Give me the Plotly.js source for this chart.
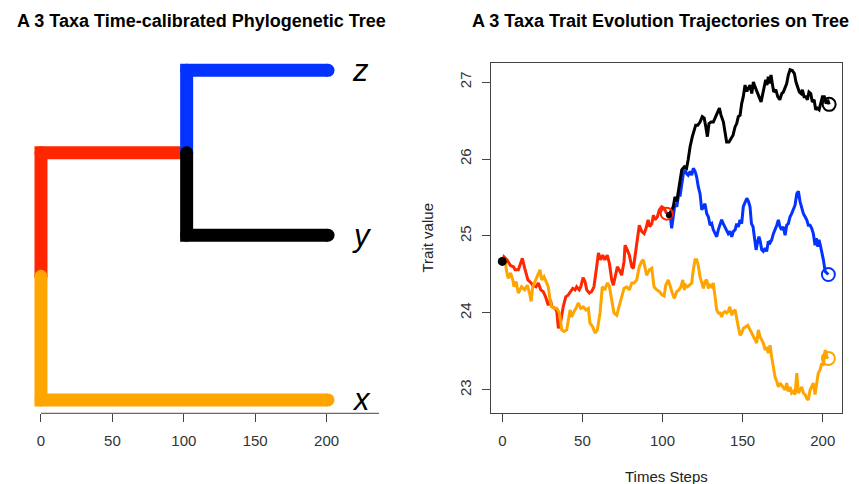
<!DOCTYPE html>
<html>
<head>
<meta charset="utf-8">
<script src="https://cdn.plot.ly/plotly-3.0.1.min.js"></script>
<style>html,body{margin:0;padding:0;background:#fff;}#chart{width:859px;height:484px;}</style>
</head>
<body>
<div id="chart"></div>
<script>
// ---------- Tree data ----------
const tipNames = ['x', 'y', 'z'];
const tipY = [1, 2, 3];
const rootTime = 0;
const nodeTime = 102;
const tipTime = 201;
const treeTicks = [0, 50, 100, 150, 200];

// ---------- Trajectory data ----------
const redTime = [0,1,3,5,7,8,10,11,12.5,14,15,16,18,19,21,22.5,24,25.5,27,28.7,30,31,33,34,35,36.5,38,39.6,41,43,44,45.4,46.4,48,49,50.4,51.6,52.7,54.3,55.8,57.2,58.9,60,61.4,62.7,64,65.5,66.8,68.3,69.3,70.8,71.8,73,74.5,76,76.6,78,79.3,80.8,81.8,82.8,84.3,85.5,87,88.5,89.7,91,92,93.3,94.3,95.3,96.8,98,99.5,101,102.6];
const redValue = [24.67,24.73,24.69,24.62,24.60,24.56,24.56,24.62,24.71,24.58,24.52,24.43,24.39,24.36,24.34,24.39,24.30,24.28,24.21,24.10,24.17,24.08,24.06,24.02,23.80,23.89,24.08,24.21,24.23,24.30,24.32,24.30,24.34,24.30,24.34,24.46,24.41,24.30,24.26,24.28,24.34,24.60,24.78,24.69,24.75,24.69,24.75,24.65,24.43,24.36,24.52,24.60,24.56,24.49,24.67,24.88,24.82,24.75,24.60,24.58,24.73,24.97,25.14,25.06,25.03,25.10,25.21,25.12,25.16,25.27,25.21,25.25,25.34,25.38,25.36,25.29];

const blackTime = [102.6,104,106.7,107.8,108.9,110,111,112,113.6,115,116,117.2,118.6,120,120.7,122,123.4,124.8,126,127,128,129,130.3,131.7,133.2,134.4,135.5,136.5,138,139,140,141.5,143,144,145.3,146.3,147.3,148.4,149.4,150.4,151.5,152.6,153.6,154.6,155.7,156.7,157.7,158.8,160.2,161.5,162.5,163.5,164.4,165.2,166,166.9,167.7,168.5,169.4,170.7,171.9,173.2,174.4,175.4,176.5,177.5,178.5,179.6,181,182.3,183.3,184.4,185.4,186.5,187.3,188.3,189.4,190.4,191.4,192.5,193.5,194.6,195.6,196.6,197.7,198.7,199.8,201,202.1,203.1,204];
const blackValue = [25.29,25.27,25.38,25.51,25.45,25.58,25.75,25.86,25.90,25.88,25.99,26.16,26.29,26.40,26.44,26.44,26.48,26.55,26.53,26.42,26.29,26.46,26.48,26.48,26.55,26.59,26.66,26.57,26.48,26.35,26.22,26.22,26.27,26.31,26.42,26.46,26.55,26.57,26.72,26.81,26.96,26.88,26.92,26.96,26.85,27.00,26.94,26.87,26.81,26.74,26.83,26.94,27.03,26.96,27.07,26.98,27.09,26.98,26.87,26.90,26.81,26.77,26.85,26.87,26.92,26.98,27.09,27.16,27.15,27.11,27.00,26.94,26.87,26.85,26.90,26.81,26.81,26.77,26.87,26.85,26.74,26.77,26.64,26.66,26.64,26.72,26.81,26.81,26.72,26.77,26.71];

const blueTime = [102.6,104.7,105.7,106.7,107.8,108.9,110,111,112,113,114,115,116,117.2,118.2,119.2,120.3,121.3,122.3,123.4,124.5,125.5,126.5,127.6,128.6,129.7,130.7,131.7,132.8,133.8,134.8,135.9,136.9,137.9,139,140,141,142,143.2,144.2,145.3,146.3,147.3,148.4,149.4,150.4,151.5,152.6,153.6,154.6,155.5,156.5,157.3,158.4,159.4,160.2,161,161.9,162.9,164,165,166,167.1,168.1,169.2,170.2,171.3,172.3,173.3,174.4,175.4,176.5,177.5,178.5,179.6,180.6,181.7,182.7,183.8,184.8,185.8,186.9,187.9,189,190,191,192.1,193.1,194.1,195.2,196,196.9,197.7,198.5,199.4,200.4,201.5,202.5,203.5];
const blueValue = [25.29,25.29,25.10,25.29,25.42,25.38,25.53,25.53,25.68,25.81,25.86,25.81,25.79,25.84,25.79,25.88,25.84,25.77,25.64,25.55,25.34,25.38,25.42,25.29,25.25,25.14,25.16,25.08,25.03,24.99,25.08,25.16,25.21,25.16,25.12,25.08,25.03,25.06,24.99,25.06,25.08,25.16,25.12,25.21,25.16,25.38,25.44,25.49,25.45,25.38,25.16,25.12,24.99,24.82,24.93,24.99,24.93,24.82,24.80,24.84,24.80,24.93,24.91,24.95,25.03,25.08,25.14,25.21,25.12,25.08,25.12,25.01,25.14,25.16,25.25,25.29,25.36,25.40,25.55,25.58,25.45,25.36,25.29,25.25,25.21,25.14,25.14,25.10,25.03,24.88,24.97,24.86,24.95,24.88,24.80,24.69,24.54,24.52,24.50];

const orangeTime = [0,1.7,2.7,3.7,5.2,6.5,7.3,8.6,10,12,14,15.6,17,18,19,20.4,21.8,23.5,24.6,26,27.3,28.7,29.8,30.8,32.3,34,35.6,37.1,38.5,40.2,42.3,43.3,44.8,46,47.4,48.9,50.6,52.2,53.7,54.7,56.4,57.9,59.3,61,62.4,64,65.5,66.8,68.3,69.7,71.4,73,74.5,76,77.7,79.3,80.8,82.2,83.9,85.5,87,88,89.1,90.1,91.8,93.3,94.7,96.4,98,99.5,101,102,103.6,104.7,106.1,107.4,108.9,110.3,111.5,112.6,113.6,114.5,115.5,116.7,118.2,119.2,120.3,121.3,122.3,123.4,124.5,125.5,126.5,127.6,128.6,129.7,130.7,131.7,132.8,133.8,134.8,135.9,136.9,137.9,139,140,141,142,143.2,144.2,145.3,146.3,147.3,148.4,149.4,150.4,151.5,152.6,153.2,154.6,156.1,157.3,158.8,159.8,160.9,161.9,162.9,164,165,166,167.1,168.1,169.2,170.2,171.3,172.3,173.3,174.4,175.4,176.5,177.5,178.5,179.6,180.6,181.7,182.7,183.8,184.8,185.8,186.9,187.9,189,190,191,192.1,193.1,194.1,195.2,196.2,197.2,198.3,199.4,200.4,201.5,202.5,203.5];
const orangeValue = [24.67,24.69,24.54,24.45,24.52,24.43,24.34,24.41,24.26,24.34,24.30,24.36,24.26,24.15,24.34,24.41,24.47,24.56,24.43,24.47,24.41,24.34,24.17,24.08,24.06,24.06,24.00,23.78,23.76,23.78,24.04,23.95,24.02,24.06,24.13,24.06,24.08,24.04,24.06,23.87,23.82,23.74,23.78,24.00,24.34,24.30,24.39,24.35,24.17,24.00,23.97,24.08,24.21,24.32,24.34,24.30,24.39,24.39,24.43,24.60,24.67,24.69,24.58,24.49,24.56,24.58,24.34,24.30,24.28,24.24,24.22,24.36,24.43,24.34,24.26,24.19,24.28,24.30,24.34,24.43,24.30,24.36,24.34,24.36,24.39,24.56,24.69,24.69,24.62,24.47,24.39,24.32,24.41,24.43,24.32,24.36,24.34,24.39,24.21,24.04,24.00,24.00,23.95,24.00,24.02,24.00,24.02,24.08,23.97,24.02,24.04,23.95,23.82,23.71,23.74,23.80,23.81,23.83,23.84,23.78,23.71,23.67,23.61,23.78,23.69,23.65,23.61,23.52,23.56,23.48,23.58,23.43,23.26,23.17,23.11,23.04,23.09,23.06,23.02,23.00,23.09,22.98,23.04,22.96,22.98,22.94,23.22,22.96,23.00,23.04,22.96,22.94,22.89,22.87,23.00,23.04,23.09,22.94,23.09,23.22,23.26,23.35,23.32,23.52,23.43,23.41];

const trajTicksX = [0, 50, 100, 150, 200];
const trajTicksY = [23, 24, 25, 26, 27];

// ---------- Colours ----------
const cRed = '#FF2600', cBlue = '#0433FF', cOrange = '#FFA500', cBlack = '#000000';
const FONT = 'Liberation Sans, Arial, Helvetica, sans-serif';

const rootY = (tipY[0] + (tipY[1] + tipY[2]) / 2) / 2;
const nodeY = (tipY[1] + tipY[2]) / 2;

function edge(xs, ys, color) {
  return {type: 'scatter', mode: 'lines+markers', x: xs, y: ys, xaxis: 'x', yaxis: 'y',
    line: {color: color, width: 13}, marker: {color: color, size: 13}, hoverinfo: 'skip'};
}
function traj(t, v, color) {
  return {type: 'scatter', mode: 'lines', x: t, y: v, xaxis: 'x2', yaxis: 'y2',
    line: {color: color, width: 3}, hoverinfo: 'skip'};
}
function pt(t, v, color, size, open) {
  return {type: 'scatter', mode: 'markers', x: [t], y: [v], xaxis: 'x2', yaxis: 'y2',
    marker: open ? {symbol: 'circle-open', size: size, color: color, line: {color: color, width: 2}}
                 : {symbol: 'circle', size: size, color: color}, hoverinfo: 'skip'};
}
const last = a => a[a.length - 1];

const data = [
  edge([rootTime, rootTime, nodeTime], [rootY, nodeY, nodeY], cRed),
  edge([nodeTime, nodeTime, tipTime], [nodeY, tipY[2], tipY[2]], cBlue),
  edge([rootTime, rootTime, tipTime], [rootY, tipY[0], tipY[0]], cOrange),
  edge([nodeTime, nodeTime, tipTime], [nodeY, tipY[1], tipY[1]], cBlack),
  traj(redTime, redValue, cRed),
  traj(blueTime, blueValue, cBlue),
  traj(blackTime, blackValue, cBlack),
  traj(orangeTime, orangeValue, cOrange),
  pt(redTime[0], redValue[0], cBlack, 9, false),
  pt(last(redTime), last(redValue), cRed, 12, true),
  pt(blackTime[1], blackValue[1], cBlack, 6, false),
  pt(last(blackTime), last(blackValue), cBlack, 13, true),
  pt(last(blueTime), last(blueValue), cBlue, 13, true),
  pt(last(orangeTime), last(orangeValue), cOrange, 13, true)
];

const W = 859, H = 484;
const px = v => v / W, py = v => 1 - v / H;

const annotations = [
  {text: '<b>A 3 Taxa Time-calibrated Phylogenetic Tree</b>', xref: 'paper', yref: 'paper', x: px(201), y: py(21.5),
   xanchor: 'center', yanchor: 'middle', showarrow: false, font: {family: FONT, size: 18, color: '#000'}},
  {text: '<b>A 3 Taxa Trait Evolution Trajectories on Tree</b>', xref: 'paper', yref: 'paper', x: px(660), y: py(21.5),
   xanchor: 'center', yanchor: 'middle', showarrow: false, font: {family: FONT, size: 18, color: '#000'}},
  {text: 'Times Steps', xref: 'paper', yref: 'paper', x: px(666.5), y: py(476.5),
   xanchor: 'center', yanchor: 'middle', showarrow: false, font: {family: FONT, size: 15, color: '#222'}},
  {text: 'Trait value', xref: 'paper', yref: 'paper', x: px(426.5), y: py(238), textangle: -90,
   xanchor: 'center', yanchor: 'middle', showarrow: false, font: {family: FONT, size: 15, color: '#222'}}
];
tipNames.forEach((n, i) => annotations.push({
  text: '<i>' + n + '</i>', xref: 'x', yref: 'y', x: 216.5, y: tipY[i], xanchor: 'left', yanchor: 'middle',
  showarrow: false, font: {family: FONT, size: 31, color: '#000'}
}));

const layout = {
  width: W, height: H, margin: {l: 0, r: 0, t: 0, b: 0},
  paper_bgcolor: '#fff', plot_bgcolor: '#fff', showlegend: false,
  xaxis: {domain: [px(20), px(400)], range: [-14.7, 251.4], anchor: 'y',
    tickmode: 'array', tickvals: treeTicks, ticktext: treeTicks.map(String),
    ticks: 'outside', ticklen: 8, tickwidth: 1, tickcolor: '#444', ticklabelstandoff: 6,
    showline: false, showgrid: false, zeroline: false,
    tickfont: {family: FONT, size: 15, color: '#333'}, fixedrange: true},
  yaxis: {domain: [1 - 413.3 / H, 1 - 40 / H], range: [0.919, 3.184], anchor: 'x', visible: false, fixedrange: true},
  xaxis2: {domain: [px(490.7), px(842.3)], range: [-7.24, 212.2], anchor: 'y2',
    tickmode: 'array', tickvals: trajTicksX, ticktext: trajTicksX.map(String),
    ticks: 'outside', ticklen: 8, tickwidth: 1, tickcolor: '#444', ticklabelstandoff: 6,
    showline: true, mirror: true, linecolor: '#444', linewidth: 1,
    showgrid: false, zeroline: false, tickfont: {family: FONT, size: 15, color: '#333'}, fixedrange: true},
  yaxis2: {domain: [1 - 413.3 / H, 1 - 63 / H], range: [22.697, 27.247], anchor: 'x2',
    tickmode: 'array', tickvals: trajTicksY, ticktext: trajTicksY.map(String), tickangle: -90,
    ticks: 'outside', ticklen: 8, tickwidth: 1, tickcolor: '#444', ticklabelstandoff: 5,
    showline: true, mirror: true, linecolor: '#444', linewidth: 1,
    showgrid: false, zeroline: false, tickfont: {family: FONT, size: 15, color: '#333'}, fixedrange: true},
  shapes: [
    {type: 'line', xref: 'x', yref: 'paper', x0: 0, x1: 236.7, y0: 1 - 413.3 / H, y1: 1 - 413.3 / H,
     line: {color: '#444', width: 1}}
  ],
  annotations: annotations
};

Plotly.newPlot('chart', data, layout, {displayModeBar: false, staticPlot: true});
</script>
</body>
</html>
